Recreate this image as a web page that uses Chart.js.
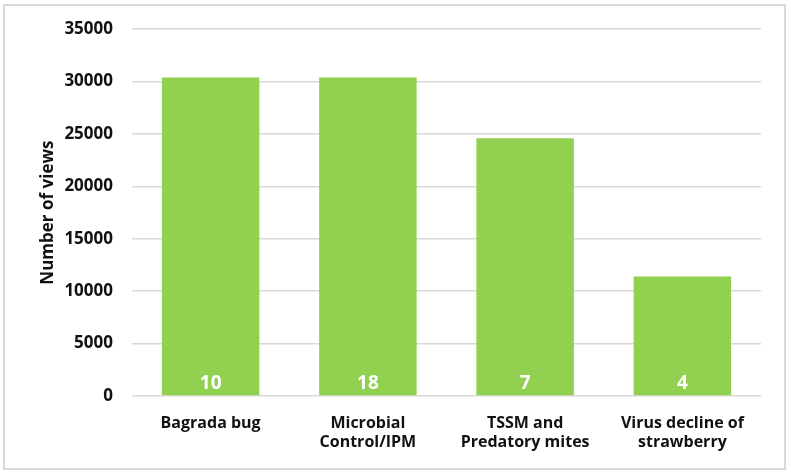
<!DOCTYPE html>
<html>
<head>
<meta charset="utf-8">
<script src="https://cdn.jsdelivr.net/npm/chart.js@4"></script>
<style>
  html, body { margin: 0; padding: 0; background: #fff; }
  #wrap { position: relative; width: 791px; height: 475px; }
</style>
</head>
<body>
<div id="wrap"><canvas id="chart" width="791" height="475"></canvas></div>
<script>
// Views per topic, with the number of items shown inside each bar
const topics = [['Bagrada bug'], ['Microbial', 'Control/IPM'], ['TSSM and', 'Predatory mites'], ['Virus decline of', 'strawberry']];
const views = [30400, 30400, 24600, 11400];
const counts = [10, 18, 7, 4];

const FONT = '"Open Sans", "DejaVu Sans", sans-serif';
const GREEN = '#92d050';
const GRID = '#d9d9d9';

// white count numbers sitting at the foot of each bar
const countLabels = {
  id: 'countLabels',
  afterDatasetsDraw(chart) {
    const { ctx } = chart;
    const meta = chart.getDatasetMeta(0);
    ctx.save();
    ctx.fillStyle = '#ffffff';
    ctx.font = `bold 19px ${FONT}`;
    ctx.textAlign = 'center';
    ctx.textBaseline = 'middle';
    meta.data.forEach((bar, i) => {
      ctx.fillText(String(counts[i]), bar.x, bar.base - 12);
    });
    ctx.restore();
  }
};

// light grey frame round the whole picture
const frame = {
  id: 'frame',
  beforeDraw(chart) {
    const { ctx } = chart;
    ctx.save();
    ctx.strokeStyle = GRID;
    ctx.lineWidth = 2;
    ctx.strokeRect(4, 5, 781, 464);
    ctx.restore();
  }
};

new Chart(document.getElementById('chart'), {
  type: 'bar',
  data: {
    labels: topics,
    datasets: [{ data: views, backgroundColor: GREEN, borderWidth: 0, categoryPercentage: 1, barPercentage: 0.62 }],
  },
  options: {
    animation: false, responsive: false,
    layout: { padding: { left: 34, right: 30, top: 20, bottom: 10 } },
    plugins: { legend: { display: false }, tooltip: { enabled: false } },
    scales: {
      x: {
        grid: { display: false },
        border: { display: false },
        ticks: { color: '#111', font: { family: FONT, size: 16, weight: 'bold' }, padding: 10, maxRotation: 0 },
        afterFit: s => { s.height = 69; },
      },
      y: {
        min: 0, max: 35000,
        grid: { color: GRID, lineWidth: 1.5, drawTicks: false },
        border: { display: false },
        ticks: { stepSize: 5000, color: '#111', font: { family: FONT, size: 17, weight: 'bold' }, padding: 19, callback: v => String(v) },
        title: { display: true, text: 'Number of views', color: '#111', font: { family: FONT, size: 17, weight: 'bold' } },
        afterFit: s => { s.width = 98; },
      },
    },
  },
  plugins: [frame, countLabels],
});
</script>
</body>
</html>
